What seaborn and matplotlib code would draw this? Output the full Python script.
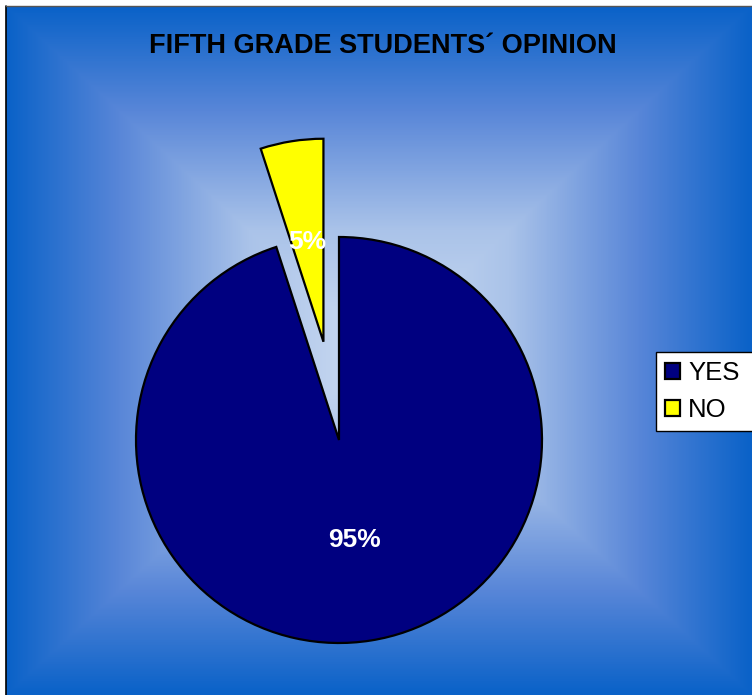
import seaborn as sns
import matplotlib.pyplot as plt
import numpy as np
from matplotlib.colors import LinearSegmentedColormap
from matplotlib.lines import Line2D

# data
labels = ['YES', 'NO']
shares = [95, 5]
title = 'FIFTH GRADE STUDENTS´ OPINION'

sns.set_style('white')
plt.rcParams['font.family'] = ['Liberation Sans', 'DejaVu Sans']
plt.rcParams['text.color'] = 'black'

colors = sns.color_palette(['#000080', '#ffff00'])

fig = plt.figure(figsize=(7.52, 6.95), dpi=100)

# rectangular gradient background (light centre, blue edges)
bg = fig.add_axes([6 / 752, 0, 746 / 752, 689 / 695])
ny, nx = 400, 440
yy, xx = np.mgrid[-1:1:ny * 1j, -1:1:nx * 1j]
t = np.maximum(np.abs(xx), np.abs(yy))
cmap = LinearSegmentedColormap.from_list(
    'bg', [(0, '#cddcf2'), (0.35, '#aac3e9'), (0.7, '#5886d8'), (1, '#0a62c8')])
bg.imshow(t, cmap=cmap, aspect='auto', extent=[0, 1, 0, 1], vmin=0, vmax=1)
bg.axis('off')
fig.add_artist(Line2D([6 / 752, 6 / 752], [0, 1 - 6 / 695], color='black', lw=1.2))
fig.add_artist(Line2D([6 / 752, 1], [1 - 6 / 695, 1 - 6 / 695], color='#555555', lw=1.0))

# pie, scaled so that radius is ~203 px, centred near (339, 440)
ax = fig.add_axes([0, 0, 1, 1])
ax.patch.set_alpha(0)
wedges, texts, autotexts = ax.pie(
    shares, colors=colors, explode=[0, 0.49], startangle=90, counterclock=False,
    autopct='%1.0f%%', pctdistance=0.5,
    wedgeprops=dict(edgecolor='black', linewidth=1.6),
    textprops=dict(color='white', fontsize=19, fontweight='bold'))
r = 203
ax.set_xlim(-339 / r, 413 / r)
ax.set_ylim(-255 / r, 440 / r)
ax.set_aspect('auto')
ax.axis('off')

fig.text(383 / 752, 1 - 46 / 695, title, ha='center', va='center',
         fontsize=19.5, fontweight='bold', color='black')

leg = fig.legend(wedges, labels, loc='upper left',
                 bbox_to_anchor=(656 / 752, 1 - 352 / 695, 110 / 752, 0),
                 mode='expand', labelcolor='black',
                 fontsize=18.5, frameon=True, fancybox=False, framealpha=1,
                 edgecolor='black', handlelength=0.6, handleheight=0.6,
                 handletextpad=0.3, borderpad=0.35, labelspacing=0.5,
                 borderaxespad=0)
leg.get_frame().set_linewidth(1.0)

fig.savefig('out.png', dpi=100)
